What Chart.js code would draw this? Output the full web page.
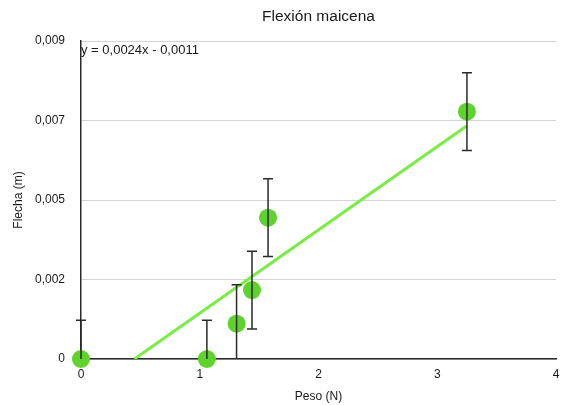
<!DOCTYPE html>
<html>
<head>
<meta charset="utf-8">
<script src="https://cdn.jsdelivr.net/npm/chart.js@4/dist/chart.umd.min.js"></script>
<style>
    html, body { margin: 0; padding: 0; background: #fff; }
    #wrap { width: 570px; height: 405px; }
</style>
</head>
<body>
<div id="wrap"><canvas id="c"></canvas></div>
<script>
// measured values
const peso = [0, 1.06, 1.31, 1.44, 1.575, 3.25];
const flecha = [0, 0, 0.001, 0.00195, 0.004, 0.007];
const errFlecha = [0.0011, 0.0011, 0.0011, 0.0011, 0.0011, 0.0011];

// trend line ends (clipped at y = 0)
const trendX = [0.45, 3.25];
const trendY = [0, 0.0066];
const trendLabel = 'y = 0,0024x - 0,0011';
const chartTitle = 'Flexión maicena';

const yTicks = [0, 0.00225, 0.0045, 0.00675, 0.009];
const yTickLabels = ['0', '0,002', '0,005', '0,007', '0,009'];
const xTicks = [0, 1, 2, 3, 4];

const FONT = '"Liberation Sans", Arial, Helvetica, sans-serif';

const errorBars = {
    id: 'errorBars',
    afterDatasetsDraw(chart) {
        const ctx = chart.ctx;
        const area = chart.chartArea;
        const xs = chart.scales.x, ys = chart.scales.y;
        ctx.save();
        ctx.beginPath();
        ctx.rect(area.left - 6, area.top - 2, area.right - area.left + 12, area.bottom - area.top + 2);
        ctx.clip();
        ctx.strokeStyle = '#2a2a2a';
        ctx.lineWidth = 1.5;
        for (let i = 0; i < peso.length; i++) {
            let px = xs.getPixelForValue(peso[i]);
            let top = ys.getPixelForValue(flecha[i] + errFlecha[i]);
            let bot = ys.getPixelForValue(flecha[i] - errFlecha[i]);
            ctx.beginPath();
            ctx.moveTo(px, top);
            ctx.lineTo(px, Math.min(bot, area.bottom));
            ctx.moveTo(px - 5, top);
            ctx.lineTo(px + 5, top);
            if (bot <= area.bottom) {
                ctx.moveTo(px - 5, bot);
                ctx.lineTo(px + 5, bot);
            }
            ctx.stroke();
        }
        ctx.restore();
    }
};

// title centred over the plot area, plus the trend equation
const labels = {
    id: 'labels',
    afterDraw(chart) {
        const ctx = chart.ctx;
        const area = chart.chartArea;
        ctx.save();
        ctx.fillStyle = '#1a1a1a';
        ctx.textBaseline = 'middle';

        ctx.font = '15.5px ' + FONT;
        ctx.textAlign = 'center';
        ctx.fillText(chartTitle, (area.left + area.right) / 2, 17);

        ctx.font = '13px ' + FONT;
        ctx.textAlign = 'left';
        ctx.fillText(trendLabel, area.left, area.top + 9);
        ctx.restore();
    }
};

new Chart(document.getElementById('c'), {
    type: 'scatter',
    data: {
        datasets: [{
            label: 'Tendencia',
            data: trendX.map((x, i) => ({ x: x, y: trendY[i] })),
            showLine: true,
            borderColor: '#79ec45',
            borderWidth: 3,
            pointRadius: 0,
            order: 2
        }, {
            label: 'Flexión',
            data: peso.map((x, i) => ({ x: x, y: flecha[i] })),
            backgroundColor: '#5fd22e',
            borderWidth: 0,
            pointRadius: 9,
            pointHoverRadius: 9,
            clip: false,
            order: 1
        }]
    },
    options: {
        responsive: true,
        maintainAspectRatio: false,
        animation: false,
        layout: { padding: { left: 7, right: 14, top: 41, bottom: 0 } },
        plugins: {
            legend: { display: false },
            tooltip: { enabled: false },
            title: { display: false }
        },
        scales: {
            x: {
                type: 'linear',
                min: 0,
                max: 4,
                afterBuildTicks: s => { s.ticks = xTicks.map(v => ({ value: v })); },
                afterFit: s => { s.height = 46; },
                grid: { display: false, drawTicks: false },
                border: { display: true, color: '#2a2a2a', width: 1.5 },
                ticks: {
                    color: '#1a1a1a',
                    padding: 8,
                    font: { family: FONT, size: 12 }
                },
                title: {
                    display: true,
                    text: 'Peso (N)',
                    color: '#1a1a1a',
                    font: { family: FONT, size: 12 },
                    padding: { top: 0, bottom: 1 }
                }
            },
            y: {
                type: 'linear',
                min: 0,
                max: 0.009,
                afterBuildTicks: s => { s.ticks = yTicks.map(v => ({ value: v })); },
                afterFit: s => { s.width = 74; },
                grid: { color: '#d4d4d4', lineWidth: 1, drawTicks: false },
                border: { display: true, color: '#2a2a2a', width: 1.5 },
                ticks: {
                    color: '#1a1a1a',
                    padding: 16,
                    font: { family: FONT, size: 12 },
                    callback: (v, i) => yTickLabels[i]
                },
                title: {
                    display: true,
                    text: 'Flecha (m)',
                    color: '#1a1a1a',
                    font: { family: FONT, size: 12 },
                    padding: { top: 4, bottom: 0 }
                }
            }
        }
    },
    plugins: [errorBars, labels]
});
</script>
</body>
</html>
